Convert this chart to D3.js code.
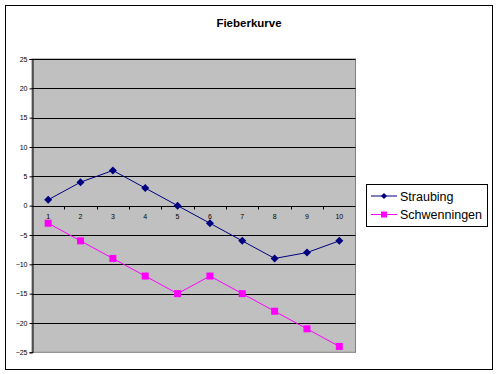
<!DOCTYPE html>
<html><head><meta charset="utf-8">
<script src="https://cdn.jsdelivr.net/npm/d3@7"></script>
<style>body{margin:0;background:#fff}svg{display:block}text{font-family:Arial,"Liberation Sans",sans-serif}</style>
</head><body><svg id="c" width="498" height="374"></svg>
<script>
const categories = ["1","2","3","4","5","6","7","8","9","10"];
const straubing = [1,4,6,3,0,-3,-6,-9,-8,-6];
const schwenningen = [-3,-6,-9,-12,-15,-12,-15,-18,-21,-24];
const yTicks = [25,20,15,10,5,0,-5,-10,-15,-20,-25];
const seriesNames = ["Straubing","Schwenningen"];
const colors = ["#000080","#FF00FF"];

const svg = d3.select("#c");
svg.append("rect").attr("x",5.5).attr("y",5.5).attr("width",487).attr("height",364)
  .attr("fill","#fff").attr("stroke","#000").attr("stroke-width",1);

svg.append("text").attr("x",249).attr("y",27).attr("text-anchor","middle")
  .attr("font-size",11.5).attr("font-weight","bold").text("Fieberkurve");

const L=32, R=355.5, T=59, B=352.3;
const x = d3.scaleBand().domain(categories).range([L,R]);
const y = d3.scaleLinear().domain([-25,25]).range([B,T]);

svg.append("rect").attr("x",L).attr("y",T).attr("width",R-L).attr("height",B-T)
  .attr("fill","#C0C0C0").attr("stroke","#808080").attr("stroke-width",1);

// gridlines
svg.append("g").selectAll("line").data(yTicks.filter(d=>d!==-25)).join("line")
  .attr("x1",L).attr("x2",R).attr("y1",d=>Math.round(y(d))+0.5).attr("y2",d=>Math.round(y(d))+0.5)
  .attr("stroke","#000").attr("stroke-width",1);

// y axis
const yAxis = svg.append("g").attr("transform",`translate(${L+0.5},0)`)
  .call(d3.axisLeft(y).tickValues(yTicks).tickSize(3).tickPadding(2));
yAxis.select(".domain").attr("stroke","#000");
yAxis.selectAll(".tick line").attr("stroke","#000");
yAxis.selectAll("text").attr("font-size",7).attr("font-family","Arial");

// x axis at 0
const y0 = Math.round(y(0))+0.5;
const xAxis = svg.append("g").attr("transform",`translate(0,${y0})`)
  .call(d3.axisBottom(x).tickSize(0).tickPadding(8));
xAxis.select(".domain").remove();
xAxis.selectAll("text").attr("font-size",7).attr("font-family","Arial");
// tick marks at band edges
svg.append("g").selectAll("line").data(categories.slice(1)).join("line")
  .attr("x1",d=>Math.round(x(d))+0.5).attr("x2",d=>Math.round(x(d))+0.5)
  .attr("y1",y0).attr("y2",y0+3).attr("stroke","#000");

const cx = d=>x(d)+x.bandwidth()/2;
const line = d3.line().x((d,i)=>cx(categories[i])).y(d=>y(d));

[straubing, schwenningen].forEach((s,k)=>{
  svg.append("path").datum(s).attr("d",line).attr("fill","none")
    .attr("stroke",colors[k]).attr("stroke-width",1);
});
svg.append("g").selectAll("path").data(straubing).join("path")
  .attr("transform",(d,i)=>`translate(${cx(categories[i])},${y(d)})`)
  .attr("d","M0,-4L4,0L0,4L-4,0Z").attr("fill",colors[0]);
svg.append("g").selectAll("rect").data(schwenningen).join("rect")
  .attr("x",(d,i)=>cx(categories[i])-3.5).attr("y",d=>y(d)-3.5)
  .attr("width",7).attr("height",7).attr("fill",colors[1]);

// legend
const lg = svg.append("g");
lg.append("rect").attr("x",366.5).attr("y",184.5).attr("width",121).attr("height",42)
  .attr("fill","#fff").attr("stroke","#000");
seriesNames.forEach((n,k)=>{
  const yy = 196 + k*18.5;
  lg.append("line").attr("x1",371).attr("x2",397).attr("y1",yy).attr("y2",yy).attr("stroke",colors[k]);
  if(k===0) lg.append("path").attr("transform",`translate(384,${yy})`).attr("d","M0,-3L3,0L0,3L-3,0Z").attr("fill",colors[k]);
  else lg.append("rect").attr("x",381).attr("y",yy-3).attr("width",6).attr("height",6).attr("fill",colors[k]);
  lg.append("text").attr("x",400).attr("y",yy+4.5).attr("font-size",12.5).text(n);
});
</script></body></html>
